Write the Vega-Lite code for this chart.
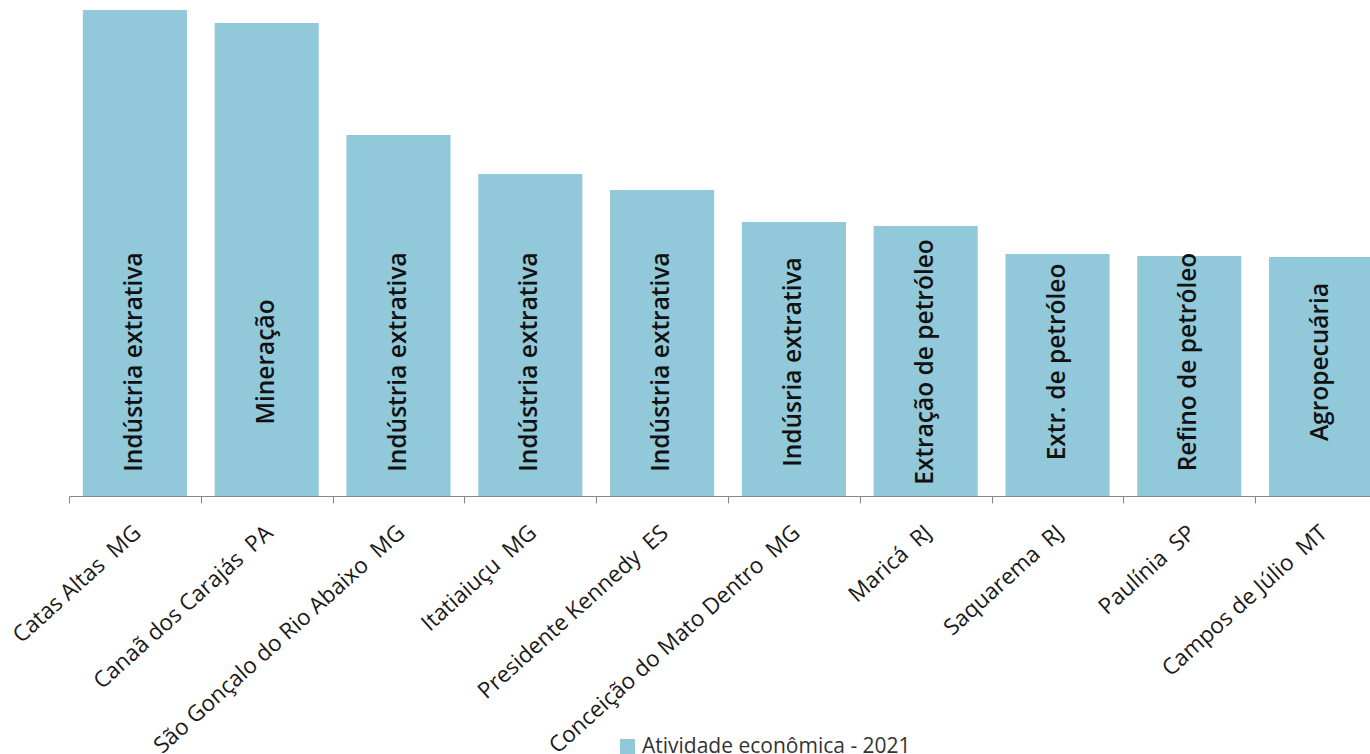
{
  "$schema": "https://vega.github.io/schema/vega-lite/v6.json",
  "autosize": {"type": "none"},
  "width": 1301,
  "height": 486,
  "padding": {"left": 69, "top": 10, "right": 0, "bottom": 258},
  "background": "white",
  "config": {"view": {"stroke": null}},
  "data": {"values": [
    {"municipio": "Catas Altas\u00a0 MG", "valor": 486, "atividade": "Indústria extrativa"},
    {"municipio": "Canaã dos Carajás\u00a0 PA", "valor": 473, "atividade": "Mineração"},
    {"municipio": "São Gonçalo do Rio Abaixo\u00a0 MG", "valor": 361, "atividade": "Indústria extrativa"},
    {"municipio": "Itatiaiuçu\u00a0 MG", "valor": 322, "atividade": "Indústria extrativa"},
    {"municipio": "Presidente Kennedy\u00a0 ES", "valor": 306, "atividade": "Indústria extrativa"},
    {"municipio": "Conceição do Mato Dentro\u00a0 MG", "valor": 274, "atividade": "Indúsria extrativa"},
    {"municipio": "Maricá\u00a0 RJ", "valor": 270, "atividade": "Extração de petróleo"},
    {"municipio": "Saquarema\u00a0 RJ", "valor": 242, "atividade": "Extr. de petróleo"},
    {"municipio": "Paulínia\u00a0 SP", "valor": 240, "atividade": "Refino de petróleo"},
    {"municipio": "Campos de Júlio\u00a0 MT", "valor": 239, "atividade": "Agropecuária"}
  ]},
  "encoding": {
    "x": {
      "field": "municipio", "type": "nominal", "sort": null,
      "scale": {"range": [0, 1318], "paddingInner": 0, "paddingOuter": 0},
      "axis": {
        "title": null, "labelAngle": -42, "labelFont": "Open Sans", "labelFontSize": 22.5,
        "labelColor": "#1a1a1a", "labelPadding": 18, "labelOffset": -5, "labelLimit": 600,
        "tickBand": "extent", "tickSize": 7, "tickColor": "#888888",
        "domainColor": "#888888", "domainWidth": 1.2, "labelOverlap": false
      }
    }
  },
  "layer": [
    {
      "mark": {"type": "bar", "width": {"band": 0.79}},
      "encoding": {
        "y": {"field": "valor", "type": "quantitative", "scale": {"domain": [0, 486], "nice": false}, "axis": null},
        "color": {
          "datum": "Atividade econômica - 2021", "type": "nominal",
          "scale": {"range": ["#92C9DA"]},
          "legend": {
            "title": null, "orient": "none", "legendX": 548, "legendY": 726,
            "symbolType": "square", "symbolSize": 225, "symbolStrokeWidth": 0,
            "labelFont": "Open Sans", "labelFontSize": 21, "labelColor": "#333333", "labelOffset": 4, "labelLimit": 600
          }
        }
      }
    },
    {
      "mark": {"type": "text", "angle": 270, "align": "center", "baseline": "middle", "font": "Open Sans", "fontWeight": 600, "fontSize": 24.5, "color": "#111111"},
      "encoding": {
        "y": {"datum": 134, "type": "quantitative"},
        "text": {"field": "atividade"}
      }
    }
  ]
}
